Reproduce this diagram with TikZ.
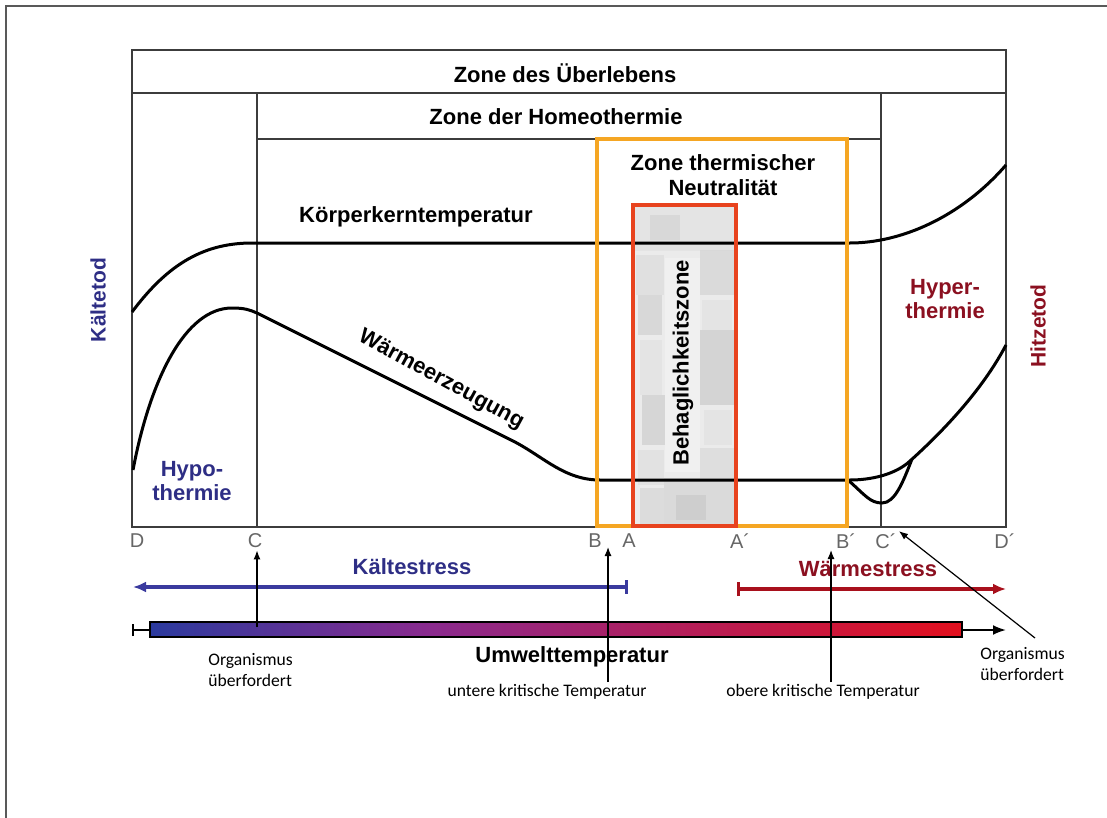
\documentclass[tikz,border=0pt]{standalone}
\usepackage{fontspec}
\setmainfont{Liberation Sans}
\newfontfamily\notefont{Carlito}
\usepackage{tikz}
\usetikzlibrary{arrows.meta,calc,positioning}

\definecolor{coldblue}{HTML}{2E2E85}
\definecolor{hotred}{HTML}{8B1020}
\definecolor{coldline}{HTML}{3A3A9E}
\definecolor{hotline}{HTML}{A8101C}
\definecolor{zoneorange}{HTML}{F5A623}
\definecolor{comfred}{HTML}{E8431E}
\definecolor{barblue}{HTML}{2B3A9E}
\definecolor{barpurple}{HTML}{8A2A8E}
\definecolor{barred}{HTML}{E2101E}
\definecolor{chartgray}{HTML}{3C3C3C}

\begin{document}
\begin{tikzpicture}[x=0.5pt, y=-0.5pt,
    frameline/.style={draw=chartgray, line width=0.75pt},
    curve/.style={draw=black, line width=1.5pt},
    lbl/.style={font=\bfseries\fontsize{11}{12.5}\selectfont, inner sep=1pt},
    sidelbl/.style={font=\bfseries\fontsize{10.5}{12}\selectfont, rotate=90, inner sep=1pt},
    axlbl/.style={text=black!60, font=\fontsize{10}{12}\selectfont, inner sep=1pt},
    note/.style={font=\notefont\fontsize{8.8}{10.5}\selectfont, align=left, inner sep=1pt},
    pointer/.style={-{Latex[length=4.5pt,width=3.5pt]}, line width=0.6pt}]

    \useasboundingbox (0,0) rectangle (1107,818);
    % page frame
    \draw[draw=black!65, line width=1pt] (6,818) -- (6,6) -- (1107,6);

    % Behaglichkeitszone texture
    \fill[gray!16] (634,206) rectangle (734,525);
    \foreach \px/\py/\pw/\ph/\pg in {634/206/100/45/22, 636/255/28/40/26, 638/295/24/40/34,
        640/340/22/55/22, 642/395/24/50/36, 638/450/26/35/24, 640/488/24/37/30,
        700/250/34/45/32, 702/300/30/30/22, 700/330/34/75/38, 704/410/28/35/22,
        700/448/34/30/28, 664/478/70/47/32, 676/495/30/25/40, 650/215/30/25/32}
      \fill[gray!\pg, opacity=0.8] (\px,\py) rectangle ++(\pw,\ph);
    \fill[white!88!gray] (665,258) rectangle (700,472);

    % chart frame
    \draw[frameline] (132,50) rectangle (1006,527);
    \draw[frameline] (132,93) -- (1006,93);
    \draw[frameline] (257,93) -- (257,527);
    \draw[frameline] (881,93) -- (881,527);
    \draw[frameline] (257,139) -- (881,139);

    % Koerperkerntemperatur
    \draw[curve] (132,312) .. controls (165,268) and (200,243) .. (252,243)
        -- (850,243) .. controls (900,243) and (960,218) .. (1006,165);

    % Waermeerzeugung
    \draw[curve] (133,470) .. controls (150,380) and (185,308) .. (232,308)
        .. controls (245,308) and (250,310) .. (257,313) -- (515,442)
        .. controls (545,458) and (565,480) .. (600,480) -- (850,480)
        .. controls (870,480) and (895,475) .. (910,461)
        .. controls (950,425) and (985,385) .. (1006,345);
    \draw[curve] (848,480) .. controls (865,495) and (870,503) .. (882,503)
        .. controls (895,503) and (903,482) .. (912,459);

    % zones
    \draw[zoneorange, line width=1.9pt] (597,139) rectangle (847,526);
    \draw[comfred, line width=2.2pt] (633,205) rectangle (736,526);

    % labels in chart
    \node[lbl] (survive) at (565,73) {Zone des Überlebens};
    \node[lbl] (homeo) at (556,117) {Zone der Homeothermie};
    \node[lbl, align=center] (neutral) at (723,175) {Zone thermischer\\Neutralität};
    \node[lbl] (core) at (416,217) {Körperkerntemperatur};
    \node[lbl, rotate=90] (comfort) at (683,363) {Behaglichkeitszone};
    \node[lbl, rotate=-28.5] (heatprod) at (441,380) {Wärmeerzeugung};
    \node[sidelbl, text=coldblue] (colddeath) at (98,300) {Kältetod};
    \node[sidelbl, text=hotred] (heatdeath) at (1038,326) {Hitzetod};
    \node[lbl, text=hotred, align=center, font=\bfseries\fontsize{11}{12}\selectfont] (hyper) at (945,299) {Hyper-\\thermie};
    \node[lbl, text=coldblue, align=center, font=\bfseries\fontsize{11}{12}\selectfont] (hypo) at (192,481) {Hypo-\\thermie};

    % axis letters
    \node[axlbl] (lD) at (137,541) {D};
    \node[axlbl] (lC) at (255,541) {C};
    \node[axlbl] (lB) at (595,541) {B};
    \node[axlbl] (lA) at (629,541) {A};
    \node[axlbl] (lAA) at (740,541) {A´};
    \node[axlbl] (lBB) at (846,541) {B´};
    \node[axlbl] (lCC) at (886,541) {C´};
    \node[axlbl] (lDD) at (1005,541) {D´};

    % stress arrows
    \node[lbl, text=coldblue] (coldstress) at (412,567) {Kältestress};
    \node[lbl, text=hotred] (heatstress) at (868,569) {Wärmestress};
    \coordinate (coldStart) at (628,587);
    \coordinate (coldEnd) at (133,587);
    \coordinate (hotStart) at (737,589);
    \coordinate (hotEnd) at (1006,589);
    \draw[coldline, line width=1.6pt, {Bar[width=7pt]}-{Latex[length=6.5pt,width=5.5pt]}] (coldStart) -- (coldEnd);
    \draw[hotline, line width=1.6pt, {Bar[width=7pt]}-{Latex[length=6.5pt,width=5.5pt]}] (hotStart) -- (hotEnd);

    % Umwelttemperatur bar
    \coordinate (axStart) at (132,630);
    \coordinate (axEnd) at (1006,630);
    \draw[line width=1pt, {Bar[width=6pt]}-{Latex[length=6.5pt,width=5pt]}] (axStart) -- (axEnd);
    \shade[left color=barblue, right color=barpurple] (150,622) rectangle (430,637);
    \shade[left color=barpurple, right color=barred] (430,622) rectangle (962,637);
    \draw[line width=0.6pt] (150,622) rectangle (962,637);
    \node[lbl] (envtemp) at (572,657) {Umwelttemperatur};

    % notes
    \node[note, anchor=west] (orgL) at (206,670) {Organismus\\überfordert};
    \node[note] (lower) at (547,692) {untere kritische Temperatur};
    \node[note] (upper) at (823,692) {obere kritische Temperatur};
    \node[note, anchor=west] (orgR) at (978,664) {Organismus\\überfordert};

    \coordinate (cBar) at (257,627);
    \coordinate (tipB) at (608,547);
    \coordinate (tipBB) at (831,550);
    \coordinate (startR) at (1035,638);
    \draw[pointer] (cBar) -- (cBar |- lC.south);
    \draw[pointer] (lower.north -| tipB) -- (tipB);
    \draw[pointer] (upper.north -| tipBB) -- (tipBB);
    \draw[pointer] (startR) -- (lCC.north east);

\end{tikzpicture}
\end{document}
